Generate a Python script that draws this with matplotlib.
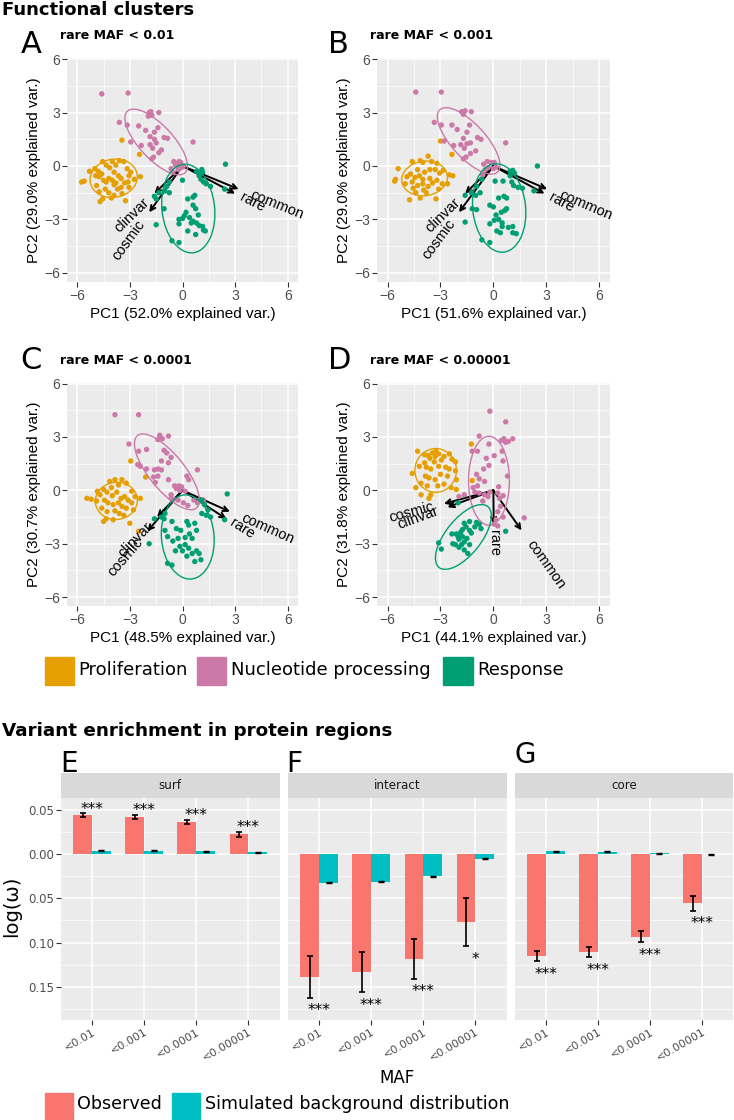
import matplotlib
matplotlib.use("Agg")
import matplotlib.pyplot as plt
import matplotlib.patches as mpatches
import matplotlib.ticker as mticker
from matplotlib.textpath import TextPath
from matplotlib.font_manager import FontProperties
import numpy as np

W, H = 734, 1120
SANS = ["Liberation Sans", "DejaVu Sans"]
DEJA = "DejaVu Sans"

CLUSTERS = ["Proliferation", "Nucleotide processing", "Response"]
CLUSTER_COLORS = ["#E69F00", "#CC79A7", "#009E73"]

# ---- PCA scores (PC1, PC2) ----
A_prolif = [(-3.45, 1.45), (-2.45, 0.65), (-5.6, -0.85), (-5.75, -0.9), (-5.3, -0.3), (-5.0, -0.15),
            (-4.8, -0.3), (-4.55, 0.25), (-4.35, 0.05), (-4.0, 0.25), (-3.8, 0.05), (-3.6, 0.3),
            (-3.35, 0.25), (-3.15, -0.15), (-2.95, -0.35), (-3.05, -0.55), (-2.4, -0.6), (-4.95, -0.55),
            (-4.75, -0.6), (-4.5, -0.8), (-4.35, -0.9), (-4.2, -0.7), (-4.0, -0.8), (-3.8, -0.95),
            (-3.5, -0.7), (-3.3, -0.95), (-3.1, -0.9), (-4.7, -2.0), (-4.55, -1.85), (-4.05, -1.8),
            (-3.9, -1.65), (-3.25, -1.95), (-4.4, -1.3), (-4.2, -1.5), (-3.7, -1.3), (-3.5, -1.2),
            (-3.05, -1.2), (-4.9, -1.1), (-3.9, -0.35), (-4.6, -0.45), (-3.65, -0.55), (-2.75, -0.75),
            (-4.15, -0.1), (-3.45, -1.55), (-4.75, -1.45), (-3.9, -1.05)]
A_nucleo = [(-4.6, 4.05), (-3.1, 4.1), (-1.9, 3.0), (-1.8, 3.05), (-1.75, 2.85), (-1.95, 2.8), (-1.35, 3.0),
            (-3.6, 2.45), (-3.15, 2.3), (-2.5, 2.25), (-1.4, 2.15), (-1.6, 1.9), (-1.05, 1.6), (-0.85, 1.55),
            (-1.85, 1.65), (-1.6, 1.5), (-2.95, 1.35), (-2.35, 1.15), (-1.85, 1.2), (-1.7, 1.0), (-1.2, 0.9),
            (-1.35, 0.75), (-1.65, 0.5), (-1.75, 0.4), (0.6, 1.35), (-0.5, 0.25), (-0.2, 0.25), (-0.1, 0.2),
            (0.05, 0.0), (-0.1, -0.1), (-0.25, -0.2), (-0.4, 0.05), (-0.65, -0.15), (-0.3, 0.1),
            (0.0, -0.05), (-0.55, -0.35), (-1.5, 1.3), (-2.1, 2.0)]
A_resp = [(2.45, 0.1), (1.1, -0.2), (1.15, -0.35), (0.95, -0.55), (1.05, -0.75), (1.2, -0.9), (1.35, -1.0),
          (1.6, -1.15), (2.4, -1.3), (0.0, -0.8), (-0.75, -0.9), (-0.9, -1.15), (-1.0, -1.4), (-0.75, -1.5),
          (-1.35, -1.5), (-1.6, -1.7), (-1.5, -1.85), (-1.05, -2.4), (-1.5, -3.3), (0.3, -1.85), (0.6, -1.75),
          (0.7, -1.65), (0.6, -2.2), (0.75, -2.4), (0.2, -2.6), (0.1, -2.8), (-0.2, -3.0), (0.4, -2.9),
          (0.6, -3.1), (0.8, -3.2), (0.95, -3.35), (1.15, -3.4), (1.3, -3.65), (0.75, -3.85), (0.3, -3.65),
          (-0.2, -3.25), (-0.6, -4.2), (-0.2, -4.3), (1.2, -3.6), (0.5, -3.2), (0.0, -2.95), (0.9, -2.75),
          (1.0, -0.45), (0.8, -0.3)]

B_prolif = [(-3.0, 1.4), (-2.35, 0.65), (-5.4, -0.15), (-5.55, -0.75), (-5.6, -0.85), (-4.6, 0.25),
            (-4.15, 0.3), (-3.7, 0.55), (-4.0, 0.2), (-3.5, 0.25), (-3.2, 0.15), (-4.9, -0.6), (-4.7, -0.45),
            (-4.45, -0.65), (-4.2, -0.55), (-3.9, -0.35), (-3.6, -0.2), (-3.3, -0.2), (-3.05, -0.4),
            (-2.85, -0.25), (-2.5, -0.5), (-2.3, -0.55), (-2.6, -1.0), (-2.9, -1.0), (-4.75, -1.9),
            (-4.15, -1.8), (-3.25, -1.85), (-4.55, -1.25), (-4.3, -1.1), (-4.0, -1.0), (-3.7, -1.15),
            (-3.45, -0.95), (-3.8, -1.5), (-4.4, -1.5), (-5.0, -1.0), (-4.0, -0.75), (-3.2, -0.8),
            (-4.6, -0.9), (-3.6, -0.7), (-3.95, -1.35), (-3.1, -1.3), (-4.3, -0.2)]
B_nucleo = [(-4.4, 4.15), (-2.95, 4.15), (-1.8, 3.05), (-1.6, 3.1), (-1.25, 3.05), (-1.7, 2.9), (-3.35, 2.45),
            (-2.95, 2.3), (-2.35, 2.3), (-1.35, 2.3), (-1.5, 1.9), (-0.9, 1.6), (-0.7, 1.5), (-1.7, 1.55),
            (-1.5, 1.25), (-1.3, 1.3), (-2.8, 1.4), (-2.25, 1.15), (-1.85, 1.2), (-1.65, 1.0), (-1.0, 0.85),
            (-1.3, 0.7), (-1.55, 0.5), (-1.7, 0.4), (0.7, 1.3), (-0.35, 0.25), (-0.15, 0.2), (0.05, 0.2),
            (0.15, -0.05), (0.0, -0.15), (-0.3, -0.1), (-0.45, -0.2), (-0.6, -0.5), (-2.05, 2.05), (-0.55, 0.1)]
B_resp = [(2.5, 0.0), (1.1, -0.25), (1.2, -0.4), (0.1, -0.85), (0.55, -0.85), (0.95, -0.55), (1.05, -0.9),
          (1.15, -1.1), (1.4, -1.2), (1.65, -1.25), (2.3, -1.4), (-0.65, -0.75), (-0.95, -1.15), (-1.25, -1.5),
          (-0.75, -1.5), (-1.6, -1.65), (-1.0, -1.65), (-1.2, -2.4), (-0.95, -2.45), (-1.6, -3.15), (0.3, -1.8),
          (0.6, -1.7), (0.75, -1.8), (0.75, -2.4), (0.65, -2.5), (0.45, -2.6), (0.15, -2.75), (-0.2, -3.25),
          (0.05, -3.05), (0.3, -3.0), (0.5, -3.2), (0.2, -3.65), (0.4, -3.75), (0.85, -3.45), (1.1, -3.4),
          (1.1, -3.75), (1.3, -3.8), (0.0, -2.3), (-0.2, -2.2), (-0.65, -4.15), (-0.2, -4.3), (0.95, -0.3),
          (0.5, -3.4)]

C_prolif = [(-2.95, 1.65), (-2.1, 0.75), (-5.45, -0.45), (-5.2, -0.5), (-4.85, -0.05), (-4.7, -0.25),
            (-4.5, 0.05), (-4.15, 0.5), (-3.85, 0.6), (-3.45, 0.6), (-3.2, 0.4), (-3.65, 0.3), (-4.05, 0.15),
            (-2.9, -0.05), (-2.7, -0.35), (-2.4, -0.45), (-2.9, -0.7), (-3.1, -0.55), (-3.3, -0.35),
            (-4.45, -0.55), (-4.25, -0.7), (-3.95, -0.8), (-3.65, -0.7), (-3.45, -0.9), (-3.2, -1.0),
            (-4.5, -1.75), (-4.35, -1.6), (-3.95, -1.65), (-3.6, -1.3), (-3.0, -1.85), (-2.5, -2.3),
            (-4.9, -0.6), (-4.0, -0.3), (-3.75, -0.1), (-4.3, -1.2), (-3.85, -1.15), (-3.35, -1.4),
            (-2.8, -1.1), (-4.6, -1.0), (-3.5, -0.45), (-4.3, -0.1)]
C_nucleo = [(-3.85, 4.25), (-2.5, 4.25), (-1.3, 3.1), (-1.15, 2.9), (-0.8, 3.05), (-1.4, 2.85), (-3.05, 2.6),
            (-2.5, 2.2), (-2.05, 2.3), (-1.05, 2.25), (-0.9, 2.1), (-2.55, 1.45), (-2.4, 1.35), (-2.05, 1.2),
            (-1.6, 1.15), (-1.4, 1.2), (-1.2, 1.15), (-0.65, 1.85), (-0.8, 1.55), (-1.2, 1.65), (-1.4, 0.8),
            (-1.65, 0.75), (-1.55, 0.45), (-0.8, 0.6), (0.85, 1.15), (0.25, 0.8), (0.35, 0.6), (-0.45, 0.25),
            (-0.2, 0.25), (-0.05, 0.2), (-0.35, 0.1), (-0.15, 0.0), (0.15, -0.05), (-0.65, -0.25),
            (-0.65, -0.45), (-0.5, -0.5), (-0.25, -0.55), (0.05, -0.7), (0.3, -0.85), (0.65, -0.55),
            (1.2, -0.55), (0.85, -0.7)]
C_resp = [(2.55, -0.2), (1.1, -0.55), (1.25, -0.8), (1.45, -1.1), (1.1, -1.3), (1.35, -1.4), (1.6, -1.5),
          (2.4, -1.65), (-1.0, -1.3), (-1.2, -1.5), (-1.6, -1.6), (-1.05, -1.6), (-1.0, -2.25), (-0.85, -2.6),
          (-1.9, -3.0), (-0.35, -2.15), (-0.1, -2.25), (0.25, -1.75), (0.35, -1.95), (0.7, -1.85), (0.8, -2.25),
          (0.4, -2.45), (0.15, -2.65), (0.55, -2.7), (-0.25, -2.7), (-0.55, -2.85), (-0.15, -3.15),
          (0.15, -3.05), (0.35, -3.25), (0.55, -3.55), (0.8, -3.4), (0.95, -3.55), (0.7, -4.0), (1.05, -3.9),
          (-0.85, -4.1), (-0.6, -4.2), (-0.6, -1.75), (0.0, -3.4), (0.25, -3.7), (-0.4, -3.4)]

D_prolif = [(-4.3, 2.2), (-4.6, 0.95), (-4.4, 0.15), (-4.1, -0.25), (-3.65, -0.45), (-3.55, -0.25), (-3.9, 2.0),
            (-3.7, 1.95), (-3.45, 2.1), (-3.25, 2.2), (-3.1, 2.05), (-2.8, 1.9), (-2.5, 2.05), (-2.35, 1.75),
            (-2.15, 1.6), (-4.2, 1.35), (-3.8, 1.3), (-3.55, 1.2), (-3.1, 1.35), (-2.7, 1.3), (-2.5, 1.2),
            (-3.85, 0.8), (-3.65, 0.7), (-3.0, 0.9), (-2.6, 0.8), (-4.1, 0.4), (-3.75, 0.25), (-3.15, 0.25),
            (-2.4, 0.15), (-2.1, 0.6), (-2.15, 1.1), (-2.1, 0.05), (-1.2, 0.55), (-3.6, 1.8), (-3.3, 1.9),
            (-3.35, 1.6), (-2.95, 1.7), (-3.9, 1.55), (-3.3, 0.6), (-2.8, 0.35), (-1.25, 2.6)]
D_nucleo = [(-0.2, 4.45), (0.7, 3.85), (-0.8, 3.05), (0.45, 2.8), (0.6, 2.9), (0.7, 2.7), (0.85, 2.75),
            (1.1, 2.9), (-1.2, 2.2), (-0.9, 2.2), (-0.25, 2.6), (0.5, 2.2), (0.05, 1.95), (0.55, 1.65),
            (-0.25, 1.4), (-0.55, 1.2), (-0.95, 0.9), (-0.8, 0.65), (0.8, 0.8), (-0.5, 0.5), (-0.9, 0.25),
            (-1.15, 0.15), (-1.05, -0.1), (-0.8, -0.15), (-0.5, -0.25), (-0.3, -0.35), (-0.2, -0.1),
            (0.25, -0.15), (0.35, -0.45), (0.55, -0.3), (-1.95, -0.35), (-1.65, -0.25), (0.25, -1.2),
            (0.55, -1.5), (0.15, -1.65), (0.05, -1.9), (0.25, -2.0), (1.75, -1.55), (0.4, -0.9), (-0.6, -0.6),
            (0.3, 0.2), (-0.4, 1.8)]
D_resp = [(-2.0, -0.7), (-0.95, -1.8), (-0.8, -1.9), (-0.7, -2.15), (-1.05, -2.05), (0.7, -2.3), (-2.35, -2.45),
          (-2.1, -2.45), (-1.85, -2.35), (-1.75, -2.6), (-1.55, -2.05), (-1.35, -2.25), (-1.25, -2.4),
          (-1.95, -2.75), (-1.65, -2.9), (-1.95, -3.2), (-1.65, -3.35), (-1.45, -3.55), (-1.35, -3.05),
          (-1.8, -3.05), (-2.15, -3.05), (-2.3, -3.0), (-3.1, -2.95), (-2.95, -3.3), (-1.65, -1.85),
          (-1.35, -1.75), (-1.75, -2.2), (-2.0, -2.6), (-1.5, -2.7)]

# group ellipses: centre x, centre y, width, height, angle (deg) for prolif / nucleo / resp
A_ellipses = [(-3.92, -0.69, 2.71, 2.14, 10), (-1.5, 1.35, 4.77, 1.9, -46.4), (0.33, -2.39, 3.0, 5.0, 6.5)]
B_ellipses = [(-3.9, -0.7, 2.6, 1.94, 8), (-1.4, 1.41, 4.79, 1.9, -47), (0.33, -2.36, 3.0, 4.98, 6)]
C_ellipses = [(-3.77, -0.59, 2.4, 2.09, 5), (-0.89, 1.04, 5.28, 2.0, -50.4), (0.3, -2.62, 3.0, 4.74, 5)]
D_ellipses = [(-3.27, 1.12, 2.36, 2.46, 0), (-0.25, 0.54, 2.32, 5.0, 0), (-1.7, -2.62, 4.4, 2.0, 51)]

# variable loadings (arrow tips)
A_arrows = {"common": (3.2, -1.3), "rare": (3.0, -1.55), "clinvar": (-1.6, -1.55), "cosmic": (-1.9, -2.6)}
B_arrows = {"common": (3.05, -1.3), "rare": (2.9, -1.55), "clinvar": (-1.6, -1.55), "cosmic": (-1.95, -2.6)}
C_arrows = {"common": (2.7, -1.2), "rare": (2.5, -1.6), "clinvar": (-1.45, -1.5), "cosmic": (-2.0, -2.3)}
D_arrows = {"common": (1.6, -2.25), "rare": (0.02, -1.9), "clinvar": (-2.6, -0.95), "cosmic": (-2.8, -0.75)}

panel_letters = ["A", "B", "C", "D"]
panel_titles = ["rare MAF < 0.01", "rare MAF < 0.001", "rare MAF < 0.0001", "rare MAF < 0.00001"]
pc1_var = [52.0, 51.6, 48.5, 44.1]
pc2_var = [29.0, 29.0, 30.7, 31.8]

# ---- enrichment bars ----
regions = ["surf", "interact", "core"]
region_letters = ["E", "F", "G"]
maf_labels = ["<0.01", "<0.001", "<0.0001", "<0.00001"]
observed = {"surf": [0.0442, 0.0423, 0.0366, 0.0223],
            "interact": [-0.1389, -0.1336, -0.1185, -0.0766],
            "core": [-0.1151, -0.1106, -0.0936, -0.0558]}
observed_err = {"surf": [0.0020, 0.0023, 0.0020, 0.0028],
                "interact": [0.0234, 0.0228, 0.0225, 0.0272],
                "core": [0.0060, 0.0060, 0.0062, 0.0080]}
simulated = {"surf": [0.0038, 0.0038, 0.0034, 0.0023],
             "interact": [-0.0325, -0.0310, -0.0249, -0.0053],
             "core": [0.0030, 0.0026, 0.0011, -0.0004]}
simulated_err = {"surf": [0.0005, 0.0005, 0.0005, 0.0005],
                 "interact": [0.0006, 0.0006, 0.0005, 0.0005],
                 "core": [0.0005, 0.0005, 0.0005, 0.0005]}
stars = {"surf": ["***", "***", "***", "***"],
         "interact": ["***", "***", "***", "*"],
         "core": ["***", "***", "***", "***"]}
OBS_COLOR, SIM_COLOR = "#F8766D", "#00BFC4"


def rect(l, t, r, b):
    return [l / W, 1 - b / H, (r - l) / W, (b - t) / H]


def ftext(x, y, s, **kw):
    fig.text(x / W, 1 - y / H, s, **kw)


def text_width(s, size):
    return TextPath((0, 0), s, size=size, prop=FontProperties(family=SANS)).get_extents().width


def gg_axes(ax):
    ax.set_facecolor("#EBEBEB")
    for sp in ax.spines.values():
        sp.set_visible(False)
    ax.set_axisbelow(True)
    ax.grid(which="major", color="white", lw=1.1)
    ax.grid(which="minor", color="white", lw=0.5)
    ax.tick_params(which="major", length=3.5, width=0.8, color="#333333", labelcolor="#4D4D4D", pad=1.5)
    ax.tick_params(which="minor", length=0)


def draw_pca(ax, groups, ellipses, arrows, xvar, yvar):
    gg_axes(ax)
    for name, (x, y) in arrows.items():
        ax.annotate("", xy=(x, y), xytext=(0, 0),
                    arrowprops=dict(arrowstyle="->", lw=1.4, color="black",
                                    shrinkA=0, shrinkB=0, mutation_scale=9), zorder=2)
    for pts, ell, col in zip(groups, ellipses, CLUSTER_COLORS):
        pts = np.asarray(pts)
        ax.scatter(pts[:, 0], pts[:, 1], s=15, color=col, edgecolors="none", zorder=3)
        cx, cy, w, h, a = ell
        ax.add_patch(mpatches.Ellipse((cx, cy), w, h, angle=a, fill=False, ec=col, lw=1.0, zorder=3))
    fs = 10.5
    for name, (x, y) in arrows.items():
        ang = np.arctan(y / x)
        sgn = 1 if x > 0 else -1
        gap = 0.25 * text_width(name, fs)   # ggbiplot: hjust = (1 - 1.5 * sign(x)) / 2
        ax.annotate(name, xy=(x, y), xytext=(sgn * gap * np.cos(ang), sgn * gap * np.sin(ang)),
                    textcoords="offset points", rotation=np.degrees(ang), rotation_mode="anchor",
                    ha="left" if x > 0 else "right", va="center", fontsize=fs,
                    family=SANS, zorder=4)
    ax.set_xlim(-6.6, 6.6)
    ax.set_ylim(-6.5, 6.05)
    ax.set_xticks([-6, -3, 0, 3, 6])
    ax.set_yticks([-6, -3, 0, 3, 6])
    ax.set_xticks([-4.5, -1.5, 1.5, 4.5], minor=True)
    ax.set_yticks([-4.5, -1.5, 1.5, 4.5], minor=True)
    for lab in ax.get_xticklabels() + ax.get_yticklabels():
        lab.set_fontfamily(SANS)
        lab.set_fontsize(10)
    ax.set_xlabel(f"PC1 ({xvar:.1f}% explained var.)", fontsize=11, family=SANS, labelpad=3)
    ax.set_ylabel(f"PC2 ({yvar:.1f}% explained var.)", fontsize=11, family=SANS, labelpad=2)


fig = plt.figure(figsize=(W / 100, H / 100), dpi=100)

pca_groups = [(A_prolif, A_nucleo, A_resp), (B_prolif, B_nucleo, B_resp),
              (C_prolif, C_nucleo, C_resp), (D_prolif, D_nucleo, D_resp)]
pca_ellipses = [A_ellipses, B_ellipses, C_ellipses, D_ellipses]
pca_arrows = [A_arrows, B_arrows, C_arrows, D_arrows]
pca_rects = [rect(66.7, 58.3, 298.3, 281.7), rect(377, 58.3, 609.7, 281.7),
             rect(66.7, 382.7, 298.3, 606), rect(377, 382.7, 609.7, 606)]
letter_pos = [(21, 53), (328, 53), (20, 369), (328, 369)]
title_pos = [(60, 39), (369.5, 39), (60, 363.5), (369.5, 363.5)]

for i in range(4):
    ax = fig.add_axes(pca_rects[i])
    draw_pca(ax, pca_groups[i], pca_ellipses[i], pca_arrows[i], pc1_var[i], pc2_var[i])
    ftext(*letter_pos[i], panel_letters[i], fontsize=22, family=DEJA, va="baseline")
    ftext(*title_pos[i], panel_titles[i], fontsize=9, family=DEJA, weight="bold", va="baseline")

ftext(2, 15, "Functional clusters", fontsize=13, family=DEJA, weight="bold", va="baseline")

# cluster legend
leg_x = [44.5, 196.6, 443]
for x0, name, col in zip(leg_x, CLUSTERS, CLUSTER_COLORS):
    fig.patches.append(mpatches.Rectangle((x0 / W, 1 - 685 / H), 29.5 / W, 28 / H,
                                          transform=fig.transFigure, color=col))
    ftext(x0 + 34, 675, name, fontsize=13, family=DEJA, va="baseline")

# ---- enrichment panels ----
ftext(2, 736.5, "Variant enrichment in protein regions", fontsize=13.2, family=DEJA,
      weight="bold", va="baseline")

bar_x = [(60.9, 279.5), (287.9, 506.6), (515, 733.1)]
letter_xy = [(60, 772), (286, 772), (515, 763)]
pos = np.arange(1, len(maf_labels) + 1)
bw = 0.36
for k, reg in enumerate(regions):
    l, r = bar_x[k]
    ftext(*letter_xy[k], region_letters[k], fontsize=20, family=DEJA, va="baseline")
    ax = fig.add_axes(rect(l, 798.3, r, 1020))
    gg_axes(ax)
    ax.bar(pos - bw / 2, observed[reg], width=bw, color=OBS_COLOR, zorder=2)
    ax.bar(pos + bw / 2, simulated[reg], width=bw, color=SIM_COLOR, zorder=2)
    ax.errorbar(pos - bw / 2, observed[reg], yerr=observed_err[reg], fmt="none",
                ecolor="black", elinewidth=1.2, capsize=2.2, capthick=1.2, zorder=3)
    ax.errorbar(pos + bw / 2, simulated[reg], yerr=simulated_err[reg], fmt="none",
                ecolor="black", elinewidth=1.0, capsize=2.2, capthick=1.0, zorder=3)
    for p, v, e, s in zip(pos, observed[reg], observed_err[reg], stars[reg]):
        if v > 0:
            ax.annotate(s, xy=(p, v + e), xytext=(0, -0.3), textcoords="offset points",
                        ha="center", va="baseline", fontsize=11, family=DEJA)
        else:
            ax.annotate(s, xy=(p, v - e), xytext=(0, -12.7), textcoords="offset points",
                        ha="center", va="baseline", fontsize=11, family=DEJA)
    ax.set_xlim(0.4, 4.6)
    ax.set_ylim(-0.1877, 0.0632)
    ax.set_xticks(pos)
    ax.set_xticklabels(maf_labels, rotation=30, ha="right", rotation_mode="anchor",
                       fontsize=8, family=DEJA)
    ax.set_yticks([-0.15, -0.10, -0.05, 0.0, 0.05])
    ax.set_yticks([-0.175, -0.125, -0.075, -0.025, 0.025], minor=True)
    ax.yaxis.set_major_formatter(mticker.FuncFormatter(lambda v, _: f"{abs(v):.2f}"))
    ax.grid(which="minor", axis="x", visible=False)
    if k == 0:
        for lab in ax.get_yticklabels():
            lab.set_fontfamily(DEJA)
            lab.set_fontsize(8.4)
    else:
        ax.tick_params(axis="y", which="both", left=False, labelleft=False)
    # facet strip
    sax = fig.add_axes(rect(l, 772.7, r, 798.3))
    sax.set_facecolor("#D9D9D9")
    sax.set_xticks([])
    sax.set_yticks([])
    for sp in sax.spines.values():
        sp.set_visible(False)
    sax.text(0.5, 0.5, reg, ha="center", va="center", fontsize=8.6, color="#1A1A1A",
             family=DEJA, transform=sax.transAxes)

ftext(397, 1078, "MAF", fontsize=12, family=DEJA, ha="center", va="center")
ftext(11.7, 906.7, "log(\u03c9)", fontsize=14, family=DEJA, rotation=90, ha="center", va="center")

for x0, name, col in [(44.5, "Observed", OBS_COLOR), (171.8, "Simulated background distribution", SIM_COLOR)]:
    fig.patches.append(mpatches.Rectangle((x0 / W, 0), 28 / W, (1120 - 1092.7) / H,
                                          transform=fig.transFigure, color=col))
    ftext(x0 + 33, 1109, name, fontsize=12.6, family=DEJA, va="baseline")

fig.savefig("out.png", dpi=100)
